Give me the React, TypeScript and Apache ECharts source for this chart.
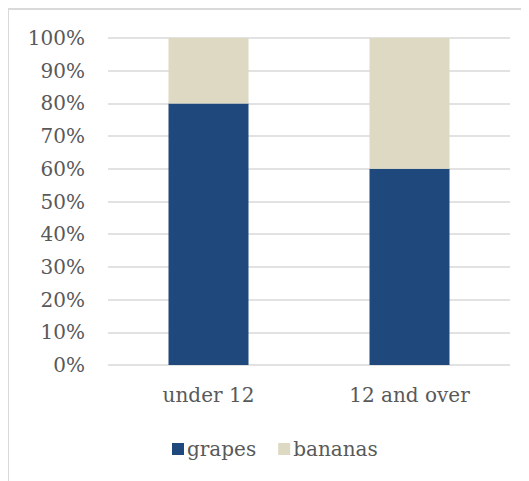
import React, { useEffect, useRef } from "react";
import * as echarts from "echarts";

const categories = ["under 12", "12 and over"];
const grapes = [80, 60];
const bananas = [20, 40];
const yTicks = [0, 10, 20, 30, 40, 50, 60, 70, 80, 90, 100];

const FONT = "DejaVu Serif";

export default function App() {
  const ref = useRef<HTMLDivElement>(null);
  useEffect(() => {
    if (!ref.current) return;
    const chart = echarts.init(ref.current, null, { renderer: "svg" });
    chart.setOption({
      animation: false,
      backgroundColor: "#ffffff",
      graphic: [
        {
          type: "line",
          shape: { x1: 0, y1: 1, x2: 600, y2: 1 },
          style: { stroke: "#d9d9d9", lineWidth: 2 },
          silent: true,
        },
        {
          type: "line",
          shape: { x1: 0, y1: 0, x2: 0, y2: 600 },
          style: { stroke: "#d9d9d9", lineWidth: 2 },
          silent: true,
        },
      ],
      grid: { left: 100, right: 19, top: 30, bottom: 116, containLabel: false },
      legend: {
        data: ["grapes", "bananas"],
        left: 159,
        top: 426,
        itemWidth: 12,
        itemHeight: 12,
        itemGap: 22,
        icon: "rect",
        textStyle: { fontFamily: FONT, fontSize: 20, color: "#595959", padding: [0, 0, 0, -2] },
      },
      xAxis: {
        type: "category",
        data: categories,
        axisLine: { show: false },
        axisTick: { show: false },
        axisLabel: { fontFamily: FONT, fontSize: 20, color: "#595959", margin: 20 },
      },
      yAxis: {
        type: "value",
        min: 0,
        max: yTicks[yTicks.length - 1],
        interval: 10,
        axisLine: { show: false },
        axisTick: { show: false },
        splitLine: { lineStyle: { color: "#d9d9d9", width: 1.5 } },
        axisLabel: {
          fontFamily: FONT,
          fontSize: 20,
          color: "#595959",
          margin: 23,
          formatter: (v: number) => v + "%",
        },
      },
      series: [
        {
          name: "grapes",
          type: "bar",
          stack: "total",
          data: grapes,
          barWidth: 80,
          itemStyle: { color: "#1f497d" },
        },
        {
          name: "bananas",
          type: "bar",
          stack: "total",
          data: bananas,
          barWidth: 80,
          itemStyle: { color: "#ddd9c3" },
        },
      ],
    });
    return () => chart.dispose();
  }, []);
  return <div ref={ref} style={{ width: 521, height: 473 }} />;
}
